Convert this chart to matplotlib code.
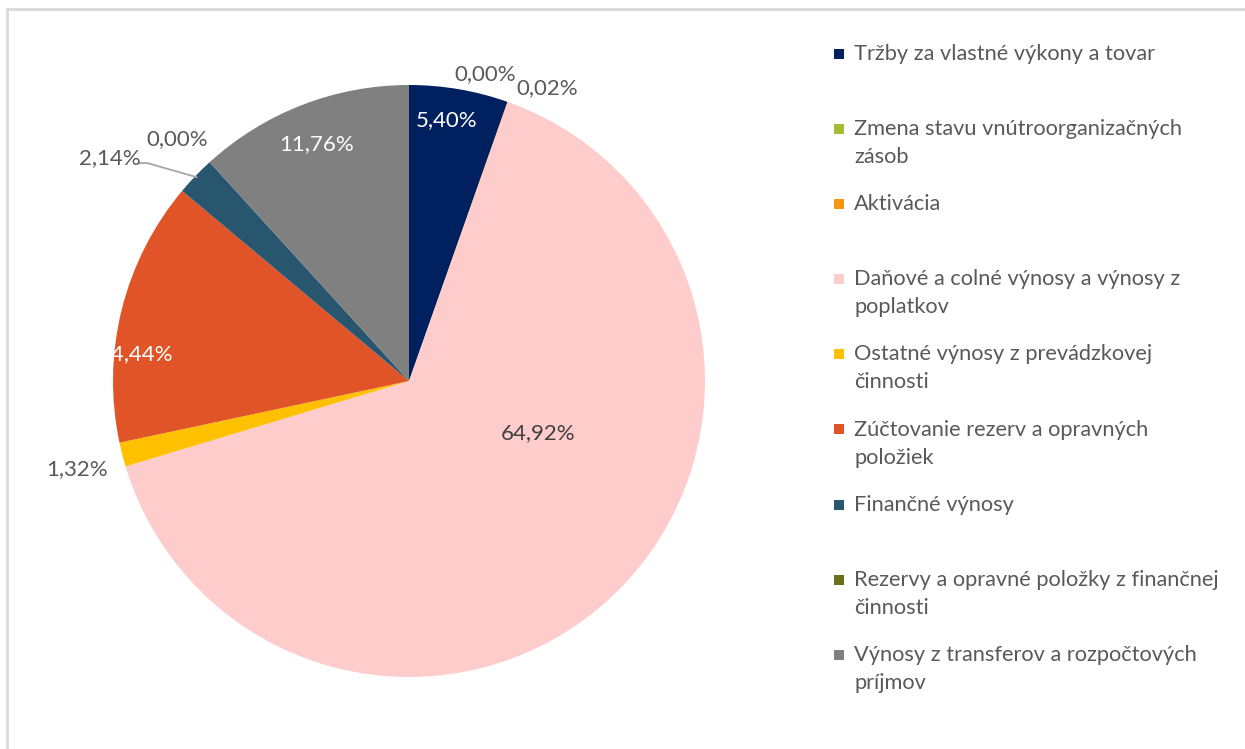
import numpy as np
import matplotlib.pyplot as plt
from matplotlib.patches import Rectangle
from matplotlib.lines import Line2D

plt.rcParams["font.family"] = ["Lato", "DejaVu Sans"]

categories = [
    "Tržby za vlastné výkony a tovar",
    "Zmena stavu vnútroorganizačných\nzásob",
    "Aktivácia",
    "Daňové a colné výnosy a výnosy z\npoplatkov",
    "Ostatné výnosy z prevádzkovej\nčinnosti",
    "Zúčtovanie rezerv a opravných\npoložiek",
    "Finančné výnosy",
    "Rezervy a opravné položky z finančnej\nčinnosti",
    "Výnosy z transferov a rozpočtových\npríjmov",
]
shares = [5.40, 0.00, 0.02, 64.92, 1.32, 14.44, 2.14, 0.00, 11.76]
value_labels = ["5,40%", "0,00%", "0,02%", "64,92%", "1,32%",
                "14,44%", "2,14%", "0,00%", "11,76%"]

colors = ["#002060", "#a5bb34", "#f7960f", "#ffcccc", "#ffc000",
          "#e05427", "#27566e", "#68711c", "#808080"]
# label placement: (radius fraction, degrees clockwise from 12 o'clock)
label_pos = [(0.89, 8.1), (1.07, 14.0), (1.095, 25.2), (0.47, 112.0),
             (1.16, 255.2), (0.93, 275.6), (1.26, 306.7), (1.13, 316.2),
             (0.86, 338.7)]
label_col = ["white", "#595959", "#595959", "#404040", "#595959",
             "white", "#595959", "#595959", "white"]

W, H = 1245, 749
fig = plt.figure(figsize=(W / 100, H / 100), dpi=100)

# pie area (pixels): centre (409, 381), radius 296
cx, cy, R = 409, 381, 296
ax = fig.add_axes([(cx - R) / W, (H - cy - R) / H, 2 * R / W, 2 * R / H])
ax.pie(shares, colors=colors, startangle=90, counterclock=False,
       radius=1.0, wedgeprops=dict(linewidth=0))
ax.set_xlim(-1, 1)
ax.set_ylim(-1, 1)
ax.set_aspect("equal")
ax.axis("off")

for txt, (r, deg), c in zip(value_labels, label_pos, label_col):
    a = np.deg2rad(deg)
    ax.text(r * np.sin(a), r * np.cos(a), txt, ha="center", va="center",
            fontsize=16, color=c, clip_on=False)

# leader line for the small "Finančné výnosy" slice
start = 86.10 + 2.14 / 2
a_mid = np.deg2rad(start * 3.6)
a_lab = np.deg2rad(309.8)
p0 = (1.15 * np.sin(a_lab), 1.15 * np.cos(a_lab))
ax.add_line(Line2D([p0[0] - 0.03, p0[0], 0.995 * np.sin(a_mid)],
                   [p0[1], p0[1], 0.995 * np.cos(a_mid)],
                   color="#a6a6a6", lw=1.3, clip_on=False))

# legend
y_first = 54
step = 75.1
for i, (name, col) in enumerate(zip(categories, colors)):
    y = y_first + i * step
    fig.patches.append(Rectangle((834 / W, 1 - (y + 5) / H), 10 / W, 10 / H,
                                 transform=fig.transFigure, facecolor=col,
                                 edgecolor="none"))
    for j, line in enumerate(name.split("\n")):
        fig.text(854 / W, 1 - (y + j * 28) / H, line, ha="left",
                 va="center", fontsize=15.7, color="#595959")

# chart area frame (only top and left edges visible)
fig.add_artist(Line2D([7 / W, 1], [1 - 9 / H, 1 - 9 / H], color="#d9d9d9",
                      lw=2, transform=fig.transFigure))
fig.add_artist(Line2D([7 / W, 7 / W], [0, 1 - 9 / H], color="#d9d9d9",
                      lw=2, transform=fig.transFigure))

fig.savefig("out.png", dpi=100)
